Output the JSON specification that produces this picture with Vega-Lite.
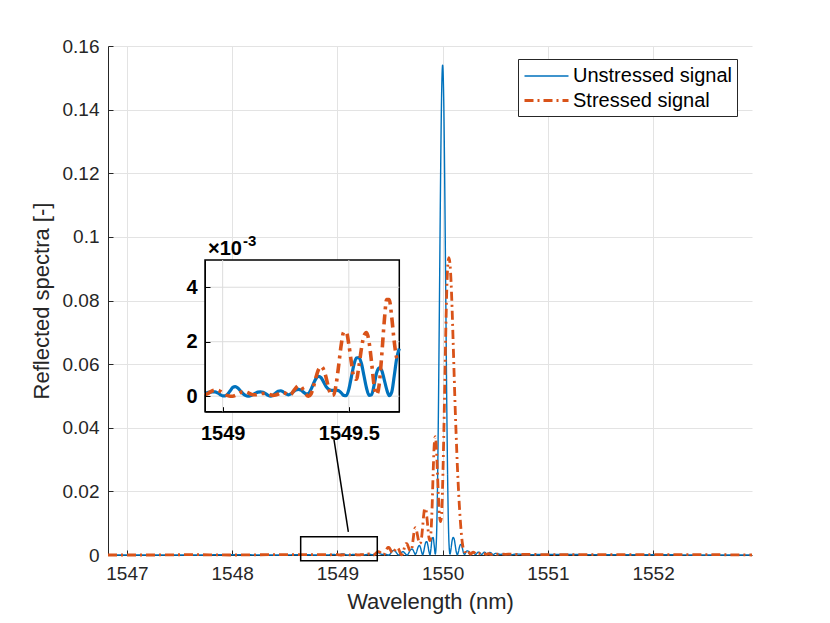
{
 "$schema": "https://vega.github.io/schema/vega-lite/v6.json",
 "width": 644, "height": 509,
 "autosize": {"type": "none"},
 "padding": {"left": 108, "top": 46, "right": 78, "bottom": 68},
 "background": "white",
 "config": {
  "font": "Liberation Sans",
  "view": {"stroke": null},
  "axis": {"domainColor": "#262626", "tickColor": "#262626", "labelColor": "#262626", "titleColor": "#262626",
   "labelFont": "Liberation Sans", "titleFont": "Liberation Sans", "labelFontSize": 19, "titleFontSize": 22,
   "titleFontWeight": "normal", "gridColor": "#e3e3e3", "gridOpacity": 1, "domainWidth": 1, "tickWidth": 1,
   "labelFlush": false, "labelOverlap": false},
  "legend": {"orient": "none", "legendX": 410, "legendY": 13, "labelFontSize": 20, "labelFont": "Liberation Sans",
   "labelColor": "black", "symbolType": "M-2,0H2", "symbolSize": 484, "symbolOffset": 11, "strokeColor": "#262626",
   "fillColor": "white", "padding": 5, "rowPadding": 2, "labelOffset": 14, "labelLimit": 300}
 },
 "datasets": {
  "spec": [
   {"w":1546.82,"u":0.0000,"s":0.0000},{"w":1547.20,"u":0.0000,"s":0.0000},{"w":1547.60,"u":0.0000,"s":0.0001},
   {"w":1548.00,"u":0.0001,"s":0.0000},{"w":1548.40,"u":0.0000,"s":0.0001},{"w":1548.70,"u":0.0001,"s":0.0001},
   {"w":1548.80,"u":0.0000,"s":0.0001},
   {"w":1548.90,"u":0.00005,"s":0.00010},{"w":1548.91,"u":0.00003,"s":0.00005},{"w":1548.92,"u":0.00005,"s":0.00002},
   {"w":1548.93,"u":0.00009,"s":0.00004},{"w":1548.94,"u":0.00013,"s":0.00009},{"w":1548.95,"u":0.00015,"s":0.00015},
   {"w":1548.96,"u":0.00016,"s":0.00020},{"w":1548.97,"u":0.00016,"s":0.00022},{"w":1548.98,"u":0.00012,"s":0.00022},
   {"w":1548.99,"u":0.00006,"s":0.00018},{"w":1549.00,"u":0.00001,"s":0.00012},{"w":1549.01,"u":0.00001,"s":0.00006},
   {"w":1549.02,"u":0.00008,"s":0.00002},{"w":1549.03,"u":0.00020,"s":0.00000},{"w":1549.04,"u":0.00032,"s":0.00000},
   {"w":1549.05,"u":0.00035,"s":0.00003},{"w":1549.06,"u":0.00030,"s":0.00008},{"w":1549.07,"u":0.00020,"s":0.00013},
   {"w":1549.08,"u":0.00010,"s":0.00016},{"w":1549.09,"u":0.00003,"s":0.00016},{"w":1549.10,"u":0.00000,"s":0.00013},
   {"w":1549.11,"u":0.00002,"s":0.00008},{"w":1549.12,"u":0.00006,"s":0.00005},{"w":1549.13,"u":0.00011,"s":0.00005},
   {"w":1549.14,"u":0.00015,"s":0.00007},{"w":1549.15,"u":0.00016,"s":0.00009},{"w":1549.16,"u":0.00014,"s":0.00010},
   {"w":1549.17,"u":0.00009,"s":0.00010},{"w":1549.18,"u":0.00003,"s":0.00008},{"w":1549.19,"u":0.00000,"s":0.00005},
   {"w":1549.20,"u":0.00004,"s":0.00003},{"w":1549.21,"u":0.00012,"s":0.00004},{"w":1549.22,"u":0.00018,"s":0.00008},
   {"w":1549.23,"u":0.00020,"s":0.00012},{"w":1549.24,"u":0.00016,"s":0.00013},{"w":1549.25,"u":0.00009,"s":0.00010},
   {"w":1549.26,"u":0.00005,"s":0.00005},{"w":1549.27,"u":0.00008,"s":0.00006},{"w":1549.28,"u":0.00016,"s":0.00018},
   {"w":1549.29,"u":0.00023,"s":0.00030},{"w":1549.30,"u":0.00025,"s":0.00038},{"w":1549.31,"u":0.00022,"s":0.00036},
   {"w":1549.32,"u":0.00015,"s":0.00022},{"w":1549.33,"u":0.00009,"s":0.00007},{"w":1549.34,"u":0.00010,"s":0.00000},
   {"w":1549.35,"u":0.00025,"s":0.00008},{"w":1549.36,"u":0.00046,"s":0.00035},{"w":1549.37,"u":0.00065,"s":0.00070},
   {"w":1549.38,"u":0.00073,"s":0.00098},{"w":1549.39,"u":0.00068,"s":0.00109},{"w":1549.40,"u":0.00052,"s":0.00098},
   {"w":1549.41,"u":0.00035,"s":0.00068},{"w":1549.42,"u":0.00025,"s":0.00030},{"w":1549.43,"u":0.00021,"s":0.00003},
   {"w":1549.44,"u":0.00021,"s":0.00005},{"w":1549.45,"u":0.00022,"s":0.00045},{"w":1549.46,"u":0.00020,"s":0.00115},
   {"w":1549.47,"u":0.00012,"s":0.00190},{"w":1549.48,"u":0.00003,"s":0.00235},{"w":1549.49,"u":0.00002,"s":0.00235},
   {"w":1549.50,"u":0.00025,"s":0.00190},{"w":1549.51,"u":0.00070,"s":0.00125},{"w":1549.52,"u":0.00115,"s":0.00070},
   {"w":1549.53,"u":0.00140,"s":0.00062},{"w":1549.54,"u":0.00142,"s":0.00110},{"w":1549.55,"u":0.00120,"s":0.00175},
   {"w":1549.56,"u":0.00075,"s":0.00222},{"w":1549.57,"u":0.00030,"s":0.00234},{"w":1549.58,"u":0.00003,"s":0.00200},
   {"w":1549.59,"u":0.00005,"s":0.00125},{"w":1549.60,"u":0.00040,"s":0.00040},{"w":1549.61,"u":0.00085,"s":0.00006},
   {"w":1549.62,"u":0.00104,"s":0.00040},{"w":1549.63,"u":0.00095,"s":0.00145},{"w":1549.64,"u":0.00062,"s":0.00270},
   {"w":1549.65,"u":0.00025,"s":0.00355},{"w":1549.66,"u":0.00002,"s":0.00355},{"w":1549.67,"u":0.00015,"s":0.00290},
   {"w":1549.68,"u":0.00075,"s":0.00200},{"w":1549.69,"u":0.00140,"s":0.00140},{"w":1549.70,"u":0.00175,"s":0.00130},
   {"w":1549.71,"u":0.0019,"s":0.0025},{"w":1549.72,"u":0.0015,"s":0.0050},{"w":1549.73,"u":0.0008,"s":0.0075},
   {"w":1549.74,"u":0.0002,"s":0.0086},{"w":1549.75,"u":0.0007,"s":0.0080},{"w":1549.76,"u":0.0018,"s":0.0064},
   {"w":1549.77,"u":0.0027,"s":0.0047},{"w":1549.78,"u":0.0030,"s":0.0036},{"w":1549.79,"u":0.0023,"s":0.0038},
   {"w":1549.80,"u":0.0010,"s":0.0055},{"w":1549.81,"u":0.0001,"s":0.0088},{"w":1549.82,"u":0.0010,"s":0.0125},
   {"w":1549.83,"u":0.0028,"s":0.0146},{"w":1549.84,"u":0.0040,"s":0.0145},{"w":1549.85,"u":0.0042,"s":0.0120},
   {"w":1549.86,"u":0.0030,"s":0.0085},{"w":1549.87,"u":0.0011,"s":0.0055},{"w":1549.88,"u":0.0001,"s":0.0045},
   {"w":1549.89,"u":0.0022,"s":0.0075},{"w":1549.90,"u":0.0052,"s":0.0150},{"w":1549.91,"u":0.0055,"s":0.0260},
   {"w":1549.92,"u":0.0030,"s":0.0345},{"w":1549.93,"u":0.0003,"s":0.0372},{"w":1549.94,"u":0.0040,"s":0.0340},
   {"w":1549.95,"u":0.0187,"s":0.0265},{"w":1549.96,"u":0.0454,"s":0.0185},{"w":1549.97,"u":0.0807,"s":0.0125},
   {"w":1549.98,"u":0.1168,"s":0.0105},{"w":1549.99,"u":0.1439,"s":0.0125},{"w":1550.00,"u":0.1540,"s":0.0220},
   {"w":1550.01,"u":0.1439,"s":0.0360},{"w":1550.02,"u":0.1168,"s":0.0530},{"w":1550.03,"u":0.0807,"s":0.0700},
   {"w":1550.04,"u":0.0454,"s":0.0840},{"w":1550.05,"u":0.0187,"s":0.0915},{"w":1550.06,"u":0.0040,"s":0.0935},
   {"w":1550.07,"u":0.0003,"s":0.0915},{"w":1550.08,"u":0.0020,"s":0.0860},{"w":1550.09,"u":0.0045,"s":0.0775},
   {"w":1550.10,"u":0.0055,"s":0.0670},{"w":1550.11,"u":0.0050,"s":0.0560},{"w":1550.12,"u":0.0030,"s":0.0455},
   {"w":1550.13,"u":0.0009,"s":0.0365},{"w":1550.14,"u":0.0001,"s":0.0280},{"w":1550.15,"u":0.0010,"s":0.0210},
   {"w":1550.16,"u":0.0025,"s":0.0150},{"w":1550.17,"u":0.0033,"s":0.0100},{"w":1550.18,"u":0.0031,"s":0.0060},
   {"w":1550.19,"u":0.0018,"s":0.0032},{"w":1550.20,"u":0.0005,"s":0.0016},{"w":1550.21,"u":0.0002,"s":0.0010},
   {"w":1550.22,"u":0.0008,"s":0.0012},{"w":1550.23,"u":0.0013,"s":0.0016},{"w":1550.24,"u":0.0013,"s":0.0014},
   {"w":1550.25,"u":0.0007,"s":0.0009},{"w":1550.26,"u":0.0002,"s":0.0004},{"w":1550.27,"u":0.0004,"s":0.0003},
   {"w":1550.28,"u":0.0009,"s":0.0006},{"w":1550.29,"u":0.0010,"s":0.0009},{"w":1550.30,"u":0.0006,"s":0.0008},
   {"w":1550.31,"u":0.0002,"s":0.0004},{"w":1550.32,"u":0.0003,"s":0.0002},{"w":1550.33,"u":0.0007,"s":0.0004},
   {"w":1550.34,"u":0.0009,"s":0.0006},{"w":1550.35,"u":0.0008,"s":0.0005},{"w":1550.36,"u":0.0004,"s":0.0003},
   {"w":1550.37,"u":0.0002,"s":0.0002},{"w":1550.38,"u":0.0004,"s":0.0004},{"w":1550.39,"u":0.0008,"s":0.0005},
   {"w":1550.40,"u":0.0009,"s":0.0004},{"w":1550.41,"u":0.0006,"s":0.0002},{"w":1550.42,"u":0.0002,"s":0.0002},
   {"w":1550.43,"u":0.0002,"s":0.0004},{"w":1550.44,"u":0.0006,"s":0.0004},{"w":1550.45,"u":0.0008,"s":0.0003},
   {"w":1550.46,"u":0.0007,"s":0.0002},{"w":1550.47,"u":0.0003,"s":0.0002},{"w":1550.48,"u":0.0001,"s":0.0003},
   {"w":1550.49,"u":0.0003,"s":0.0003},{"w":1550.50,"u":0.0005,"s":0.0002},{"w":1550.55,"u":0.0002,"s":0.0003},
   {"w":1550.60,"u":0.0004,"s":0.0002},{"w":1550.65,"u":0.0001,"s":0.0003},{"w":1550.70,"u":0.0003,"s":0.0002},
   {"w":1550.80,"u":0.0001,"s":0.0002},{"w":1551.00,"u":0.0002,"s":0.0001},{"w":1551.50,"u":0.0001,"s":0.0001},
   {"w":1552.00,"u":0.0001,"s":0.0001},{"w":1552.50,"u":0.0000,"s":0.0001},{"w":1552.94,"u":0.0000,"s":0.0000}
  ],
  "zoombox": [{"x1": 1548.651, "x2": 1549.379, "y1": -0.0018, "y2": 0.00575}],
  "connector": [{"x1": 1548.968, "y1": 0.0362, "x2": 1549.104, "y2": 0.0073}],
  "insetbox": [{"x1": 1548.93, "x2": 1549.70, "y1": -0.00057, "y2": 0.005}],
  "insetgx": [{"gx": 1549}, {"gx": 1549.5}],
  "insetgy": [{"gy": 0}, {"gy": 0.002}, {"gy": 0.004}],
  "insetlabel": [{"tx": 1548.93, "ty": 0.005}]
 },
 "layer": [
  {
   "layer": [
    {
     "data": {"name": "spec"},
     "transform": [{"fold": ["u", "s"], "as": ["series", "value"]}],
     "mark": {"type": "line", "interpolate": "monotone"},
     "encoding": {
      "x": {"field": "w", "type": "quantitative",
       "scale": {"domain": [1546.82, 1552.94], "nice": false, "zero": false},
       "axis": {"values": [1547, 1548, 1549, 1550, 1551, 1552], "format": "d", "grid": true, "tickSize": -5,
        "labelPadding": 14, "title": "Wavelength (nm)", "titlePadding": 8}},
      "y": {"field": "value", "type": "quantitative",
       "scale": {"domain": [0, 0.16], "nice": false},
       "axis": {"values": [0, 0.02, 0.04, 0.06, 0.08, 0.1, 0.12, 0.14, 0.16], "format": "~g", "grid": true,
        "tickSize": -5, "labelPadding": 14, "title": "Reflected spectra [-]", "titlePadding": 9}},
      "color": {"field": "series", "type": "nominal",
       "scale": {"domain": ["u", "s"], "range": ["#0072BD", "#D95319"]},
       "legend": {"title": null, "labelExpr": "datum.label == 'u' ? 'Unstressed signal' : 'Stressed signal'"}},
      "strokeDash": {"field": "series", "type": "nominal",
       "scale": {"domain": ["u", "s"], "range": [[1, 0], [9, 4, 2, 4]]},
       "legend": {"title": null, "labelExpr": "datum.label == 'u' ? 'Unstressed signal' : 'Stressed signal'"}},
      "strokeWidth": {"field": "series", "type": "nominal",
       "scale": {"domain": ["u", "s"], "range": [1.4, 2.8]},
       "legend": {"title": null, "labelExpr": "datum.label == 'u' ? 'Unstressed signal' : 'Stressed signal'"}}
     }
    },
    {
     "data": {"name": "zoombox"},
     "mark": {"type": "rect", "fill": null, "fillOpacity": 0, "stroke": "black", "strokeWidth": 1.5},
     "encoding": {
      "x": {"field": "x1", "type": "quantitative"},
      "x2": {"field": "x2"},
      "y": {"field": "y1", "type": "quantitative"},
      "y2": {"field": "y2"}
     }
    },
    {
     "data": {"name": "connector"},
     "mark": {"type": "rule", "color": "black", "strokeWidth": 1.5},
     "encoding": {
      "x": {"field": "x1", "type": "quantitative"},
      "x2": {"field": "x2"},
      "y": {"field": "y1", "type": "quantitative"},
      "y2": {"field": "y2"}
     }
    }
   ]
  },
  {
   "layer": [
    {
     "data": {"name": "insetbox"},
     "mark": {"type": "rect", "fill": "white", "stroke": "black", "strokeWidth": 1.5},
     "encoding": {
      "x": {"field": "x1", "type": "quantitative",
       "scale": {"domain": [1548.93, 1549.70], "range": [97, 291.3], "nice": false, "zero": false},
       "axis": {"orient": "bottom", "offset": -143.3, "values": [1549, 1549.5], "format": "~g", "grid": false,
        "tickSize": -5, "labelPadding": 17, "labelFontWeight": "bold", "labelColor": "black", "labelFontSize": 20,
        "domainColor": "black", "tickColor": "black", "title": null, "zindex": 1}},
      "x2": {"field": "x2"},
      "y": {"field": "y1", "type": "quantitative",
       "scale": {"domain": [-0.00057, 0.005], "range": [365.7, 214], "nice": false, "zero": false},
       "axis": {"orient": "left", "offset": -97, "values": [0, 0.002, 0.004],
        "labelExpr": "format(datum.value * 1000, '~g')", "grid": false, "tickSize": -5, "labelPadding": 13,
        "labelFontWeight": "bold", "labelColor": "black", "labelFontSize": 20, "domainColor": "black",
        "tickColor": "black", "title": null, "zindex": 1}},
      "y2": {"field": "y2"}
     }
    },
    {
     "data": {"name": "insetgx"},
     "mark": {"type": "rule", "color": "#dcdcdc", "strokeWidth": 1},
     "encoding": {
      "x": {"field": "gx", "type": "quantitative"},
      "y": {"datum": -0.00057, "type": "quantitative"},
      "y2": {"datum": 0.005}
     }
    },
    {
     "data": {"name": "insetgy"},
     "mark": {"type": "rule", "color": "#dcdcdc", "strokeWidth": 1},
     "encoding": {
      "y": {"field": "gy", "type": "quantitative"},
      "x": {"datum": 1548.93, "type": "quantitative"},
      "x2": {"datum": 1549.70}
     }
    },
    {
     "data": {"name": "spec"},
     "transform": [{"filter": {"field": "w", "range": [1548.93, 1549.7]}}],
     "mark": {"type": "line", "color": "#0072BD", "strokeWidth": 3.2, "interpolate": "monotone"},
     "encoding": {
      "x": {"field": "w", "type": "quantitative"},
      "y": {"field": "u", "type": "quantitative"}
     }
    },
    {
     "data": {"name": "spec"},
     "transform": [{"filter": {"field": "w", "range": [1548.93, 1549.7]}}],
     "mark": {"type": "line", "color": "#D95319", "strokeWidth": 3.6, "strokeDash": [10, 5, 3, 5], "interpolate": "monotone"},
     "encoding": {
      "x": {"field": "w", "type": "quantitative"},
      "y": {"field": "s", "type": "quantitative"}
     }
    },
    {
     "data": {"name": "insetlabel"},
     "mark": {"type": "text", "text": "×10", "align": "left", "baseline": "alphabetic", "dx": 3, "dy": -5,
      "font": "Liberation Sans", "fontSize": 20, "fontWeight": "bold", "color": "black"},
     "encoding": {
      "x": {"field": "tx", "type": "quantitative"},
      "y": {"field": "ty", "type": "quantitative"}
     }
    },
    {
     "data": {"name": "insetlabel"},
     "mark": {"type": "text", "text": "-3", "align": "left", "baseline": "alphabetic", "dx": 38, "dy": -14,
      "font": "Liberation Sans", "fontSize": 15, "fontWeight": "bold", "color": "black"},
     "encoding": {
      "x": {"field": "tx", "type": "quantitative"},
      "y": {"field": "ty", "type": "quantitative"}
     }
    }
   ]
  }
 ],
 "resolve": {"scale": {"x": "independent", "y": "independent"}}
}
